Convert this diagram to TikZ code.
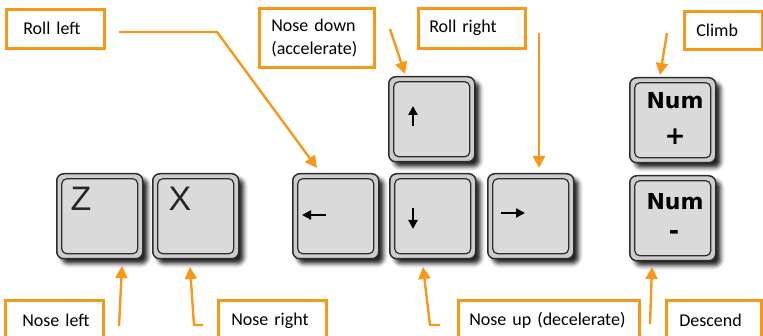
\documentclass[tikz,border=0pt]{standalone}
\usepackage{fontspec}
\setmainfont{Carlito}
\newfontfamily\keyfont{Liberation Sans}
\newfontfamily\numfont{DejaVu Sans}
\usetikzlibrary{arrows.meta,shadows.blur}
\definecolor{callout}{RGB}{248,152,24}
\definecolor{capring}{RGB}{205,205,205}
\definecolor{captop}{RGB}{218,218,218}
\definecolor{capedge}{RGB}{45,45,45}
% left indent of a callout line
\newcommand\lpad[1]{\hspace*{#1pt}}
\tikzset{
  lbl/.style={draw=callout, line width=2.6pt, fill=white, anchor=north west,
    align=left, font=\fontsize{18}{23}\selectfont, inner ysep=0pt, inner xsep=0pt},
  callarrow/.style={draw=callout, line width=2.4pt,
    -{Triangle[length=12pt,width=12pt]}},
  keycap/.style={rectangle, rounded corners=7pt, draw=capedge, line width=1.5pt,
    fill=capring, minimum width=86pt, minimum height=85pt, anchor=north west,
    blur shadow={shadow xshift=5pt, shadow yshift=-5pt, shadow blur radius=4pt,
      shadow opacity=85},
    path picture={
      \draw[capedge, line width=1.2pt, fill=captop, rounded corners=5pt]
        ([shift={(5pt,-5pt)}]path picture bounding box.north west) rectangle
        ([shift={(-5pt,5pt)}]path picture bounding box.south east);
    }},
  letter/.style={font=\keyfont\fontsize{34}{34}\selectfont, text=black!85},
  numtxt/.style={font=\numfont\bfseries\fontsize{22}{22}\selectfont},
  signtxt/.style={font=\numfont\bfseries\fontsize{25}{25}\selectfont},
  keyarrow/.style={line width=2.6pt, -{Triangle[length=9pt,width=9pt]}}
}
\begin{document}
\begin{tikzpicture}[x=1pt, y=-1pt]
\useasboundingbox (0,0) rectangle (763,336);
\clip (0,0) rectangle (763,336);

% key caps
\node[keycap] (kz)     at (56,173) {};
\node[keycap] (kx)     at (152,173) {};
\node[keycap] (kleft)  at (292,173) {};
\node[keycap] (kdown)  at (389,173) {};
\node[keycap] (kright) at (487,173) {};
\node[keycap] (kup)    at (388,76) {};
\node[keycap] (kplus)  at (629,77) {};
\node[keycap] (kminus) at (629,175) {};

% legends printed on the caps
\node[letter] (lz) at (81,199) {Z};
\node[letter] (lx) at (180,199) {X};
\node[numtxt] (np1) at (675,101) {Num};
\node[signtxt] (np2) at (675,137) {+};
\node[numtxt] (nm1) at (675,202) {Num};
\node[signtxt] (nm2) at (674,235) {-};
\coordinate (al1) at (326,215); \coordinate (al2) at (302,215);
\coordinate (au1) at (413,126); \coordinate (au2) at (413,106);
\coordinate (ad1) at (413,208); \coordinate (ad2) at (413,229);
\coordinate (ar1) at (501,213); \coordinate (ar2) at (525,213);
\draw[keyarrow] (al1) -- (al2);
\draw[keyarrow] (au1) -- (au2);
\draw[keyarrow] (ad1) -- (ad2);
\draw[keyarrow] (ar1) -- (ar2);

% callout boxes
\node[lbl, minimum height=39pt, text width=98pt]  (rl) at (5,8)    {\lpad{17}Roll left};
\node[lbl, minimum height=59pt, text width=115pt] (nd) at (258,7)  {\lpad{12}Nose down\\\lpad{12}(accelerate)};
\node[lbl, minimum height=40pt, text width=107pt] (rr) at (417,7)  {\lpad{11}Roll right};
\node[lbl, minimum height=38pt, text width=78pt]  (cl) at (683,10) {\lpad{12}Climb};
\node[lbl, minimum height=40pt, text width=98pt]  (nl) at (4,299)  {\lpad{17}Nose left};
\node[lbl, minimum height=40pt, text width=108pt] (nr) at (217,299) {\lpad{13}Nose right};
\node[lbl, minimum height=40pt, text width=181pt] (nu) at (457,299) {\lpad{11}Nose up (decelerate)};
\node[lbl, minimum height=40pt, text width=95pt]  (ds) at (665,299) {\lpad{13}Descend};

% connector ends
\coordinate (rls) at (119,32);  \coordinate (rlb) at (217,32);  \coordinate (rlt) at (317,168);
\coordinate (nds) at (390,29);  \coordinate (ndt) at (405,74);
\coordinate (rrs) at (539,33);  \coordinate (rrt) at (539,168);
\coordinate (cls) at (667,33);  \coordinate (clt) at (660,75);
\coordinate (nls) at (119,326); \coordinate (nlt) at (122,266);
\coordinate (nrs) at (203,325); \coordinate (nrb) at (194,325); \coordinate (nrt) at (190,267);
\coordinate (nus) at (440,325); \coordinate (nub) at (430,325); \coordinate (nut) at (423,267);
\coordinate (dss) at (650,324); \coordinate (dst) at (652,267);

% callout arrows
\draw[callarrow] (rls) -- (rlb) -- (rlt);
\draw[callarrow] (nds) -- (ndt);
\draw[callarrow] (rrs) -- (rrt);
\draw[callarrow] (cls) -- (clt);
\draw[callarrow] (nls) -- (nlt);
\draw[callarrow] (nrs) -- (nrb) -- (nrt);
\draw[callarrow] (nus) -- (nub) -- (nut);
\draw[callarrow] (dss) -- (dst);
\end{tikzpicture}
\end{document}
